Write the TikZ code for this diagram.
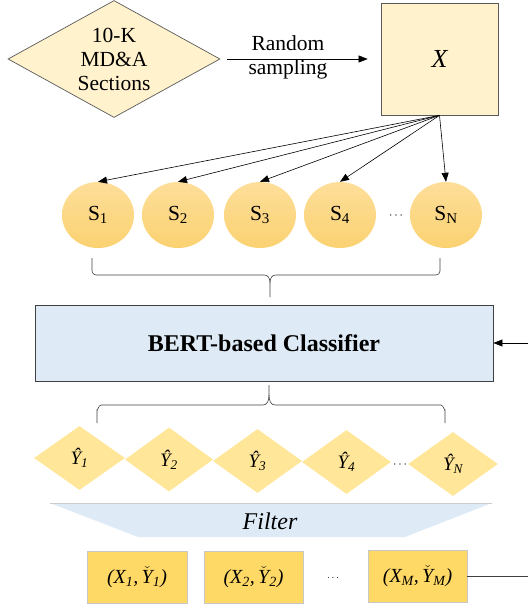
\documentclass[tikz,border=0pt]{standalone}
\usepackage{fontspec}
\setmainfont{Liberation Serif}
\usetikzlibrary{shapes.geometric,arrows.meta}
\definecolor{paleyel}{HTML}{FFF2CC}
\definecolor{circtop}{HTML}{FDDE9A}
\definecolor{circbot}{HTML}{FBD271}
\definecolor{yhatfill}{HTML}{FFE699}
\definecolor{pairfill}{HTML}{FFD966}
\definecolor{bluefill}{HTML}{DEEBF7}
\definecolor{edgegray}{HTML}{595959}
\newcommand\ychk{$\check{\mbox{\itshape Y}}$}
\begin{document}
\begin{tikzpicture}[x=1pt,y=-1pt,
  txt/.style={font=\fontsize{21.5}{24}\selectfont},
  srcbox/.style={diamond, draw=edgegray, line width=0.7pt, fill=paleyel, inner sep=0pt, aspect=1.8,
    minimum width=212pt, minimum height=117pt, align=center, txt},
  xbox/.style={rectangle, draw=edgegray, line width=0.7pt, fill=paleyel, minimum width=117pt, minimum height=112pt,
    font=\fontsize{26}{28}\selectfont\itshape},
  sent/.style={ellipse, top color=circtop, bottom color=circbot, minimum width=72pt, minimum height=66pt,
    inner sep=0pt, txt},
  pred/.style={diamond, fill=yhatfill, minimum width=89pt, minimum height=64pt, inner sep=0pt, aspect=1.4,
    font=\fontsize{19}{22}\selectfont\itshape},
  pair/.style={rectangle, draw=black!22, line width=0.5pt, fill=pairfill, minimum width=99pt, minimum height=52pt,
    inner sep=0pt, font=\fontsize{20}{23}\selectfont\itshape},
  arr/.style={-{Triangle[length=9pt,width=7pt]}, line width=0.6pt},
  bracestyle/.style={line width=0.6pt, draw=black!75},
  dotsstyle/.style={font=\fontsize{13}{13}\selectfont, inner sep=0pt}
]
\useasboundingbox (0,0) rectangle (528,608);

% top row
\node[srcbox] (src) at (114,59) {10-K\\MD\&A\\Sections};
\node[xbox] (X) at (439.5,59) {X};
\draw[arr, shorten <=7pt, shorten >=13pt] (src) -- (X);
\node[txt, align=center, inner sep=0pt] (rs) at (288,57) {Random\\sampling};

% sentences
\node[sent] (S1) at (98,215) {S\textsubscript{1}};
\node[sent] (S2) at (178,215) {S\textsubscript{2}};
\node[sent] (S3) at (260,215) {S\textsubscript{3}};
\node[sent] (S4) at (340,215) {S\textsubscript{4}};
\node[sent] (SN) at (446,215) {S\textsubscript{N}};
\node[dotsstyle] (sdots) at (396,216) {$\cdots$};
\foreach \s in {S1,S2,S3,S4,SN} \draw[arr] (X.south) -- (\s.north);

% brace under sentences
\coordinate (b1l) at (92,258);
\coordinate (b1r) at (440,258);
\coordinate (b1t) at (270,297);
\draw[bracestyle] (b1l) -- (92,271) to[out=-90,in=180] (96,275) -- (264,275)
   .. controls (268,275) and (270,278) .. (270,283) -- (b1t);
\draw[bracestyle] (b1r) -- (440,271) to[out=-90,in=0] (436,275) -- (276,275)
   .. controls (272,275) and (270,278) .. (270,283);

% classifier
\node[draw=black!75, line width=0.8pt, fill=bluefill, minimum width=458pt, minimum height=76pt,
  font=\fontsize{24}{26}\selectfont\bfseries] (bert) at (264,343) {BERT-based Classifier};
\coordinate (fbin) at (528,343);
\draw[arr] (fbin) -- (bert.east);

% brace above predictions
\coordinate (b2t) at (269,385);
\coordinate (b2l) at (97,423);
\coordinate (b2r) at (445,423);
\draw[bracestyle] (b2t) -- (269,395) .. controls (269,401) and (271,405) .. (275,405) -- (441,405)
   to[out=0,in=-90] (445,410) -- (b2r);
\draw[bracestyle] (269,395) .. controls (269,401) and (267,405) .. (263,405) -- (101,405)
   to[out=180,in=-90] (97,410) -- (b2l);

% predictions
\node[pred, minimum width=91pt] (Y1) at (79.5,458) {Ŷ\textsubscript{1}};
\node[pred, minimum width=88pt] (Y2) at (169,459.5) {Ŷ\textsubscript{2}};
\node[pred] (Y3) at (257.5,461) {Ŷ\textsubscript{3}};
\node[pred] (Y4) at (346.5,462) {Ŷ\textsubscript{4}};
\node[pred, minimum width=90pt] (YN) at (453,464) {Ŷ\textsubscript{N}};
\node[dotsstyle] (ydots) at (400,465) {$\cdots$};

% filter
\fill[bluefill] (50,503) -- (492,503) -- (405,537) -- (138,537) -- cycle;
\draw[black!20, line width=0.5pt] (50,503) -- (492,503);
\node[anchor=base, inner sep=0pt, font=\fontsize{24}{26}\selectfont\itshape] (filter) at (270,529) {Filter};

% pairs
\node[pair, minimum width=100pt] (P1) at (137,577) {(X\textsubscript{1},\,\ychk\textsubscript{1})};
\node[pair] (P2) at (253.5,577) {(X\textsubscript{2},\,\ychk\textsubscript{2})};
\node[pair] (PM) at (417.5,576) {(X\textsubscript{M},\,\ychk\textsubscript{M})};
\node[dotsstyle, font=\fontsize{10}{10}\selectfont] (pdots) at (333,578) {$\cdots$};
\coordinate (fbout) at (528,576);
\draw[line width=0.6pt, draw=black!75] (PM) -- (fbout);
\end{tikzpicture}
\end{document}
